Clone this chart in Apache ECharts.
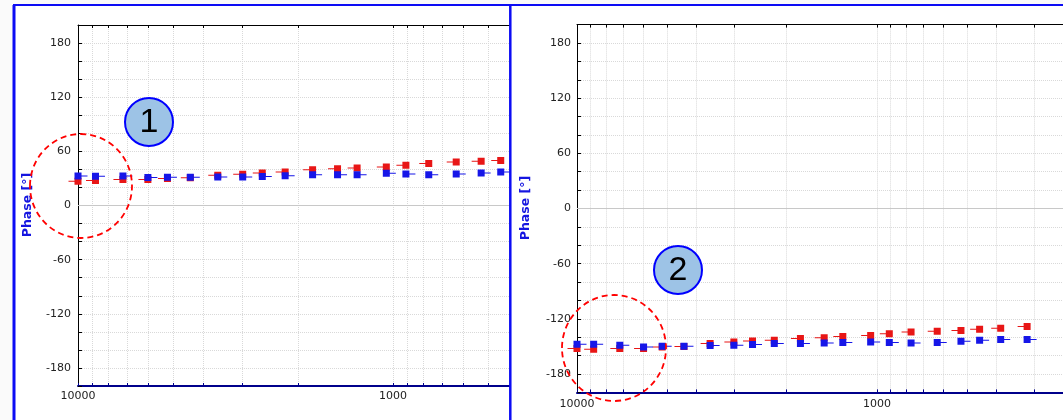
<!DOCTYPE html>
<html><head><meta charset="utf-8">
<script src="https://cdn.jsdelivr.net/npm/echarts@6/dist/echarts.min.js"></script>
<style>html,body{margin:0;padding:0;background:#fff}#c{width:1063px;height:420px}</style>
</head><body><div id="c"></div>
<script>
// ---- data ----
const frequencies = [10000, 8800, 7200, 6000, 5200, 4400, 3600, 3000, 2600, 2200, 1800, 1500, 1300, 1050, 910, 770, 630, 525, 455, 387, 316];
const panel1Red  = [26.8, 27.6, 28.7, 28.7, 29.8, 30.7, 33.4, 34.5, 36.0, 37.1, 39.7, 40.8, 41.5, 42.6, 44.5, 46.4, 48.2, 48.9, 50.0];
const panel1Blue = [32.7, 32.3, 32.7, 30.9, 31.2, 31.2, 31.5, 31.5, 32.0, 33.1, 34.2, 34.2, 34.2, 35.6, 34.9, 34.2, 34.9, 36.0, 37.1];
const panel2Red  = [-152.3, -153.1, -152.3, -152.3, -150.6, -150.0, -146.9, -145.2, -144.1, -143.4, -141.5, -140.5, -139.1, -138.0, -136.2, -134.4, -133.4, -132.6, -131.2, -130.1, -128.3];
const panel2Blue = [-147.7, -147.7, -148.8, -150.6, -149.8, -149.8, -149.1, -148.8, -148.0, -146.9, -146.9, -146.3, -145.8, -145.2, -145.8, -146.3, -145.8, -144.4, -143.4, -142.6, -142.6];
const xTickValues  = [10000, 9000, 8000, 7000, 6000, 5000, 4000, 3000, 2000, 1000, 900, 800, 700, 600, 500, 400, 300, 200];
const xLabelValues = [10000, 1000];
const yLabelValues = [-180, -120, -60, 0, 60, 120, 180];
const yTitle = 'Phase [°]';
const callouts = ['1', '2'];

const lg = Math.log10;
const RED = '#e81616', BLUE = '#1616e8';
const FONT = '"DejaVu Sans", sans-serif';
const GRIDC = '#d9d9d9';

function pts(vals) { return vals.map((v, i) => [lg(frequencies[i]), v]); }

function xAxis(g, min, pos, margin) {
  const bottom = pos === 'bottom';
  return {
    type: 'value', gridIndex: g, position: pos, min: min, max: 4, inverse: true,
    axisLine: { show: true, onZero: false, lineStyle: { color: bottom ? '#00008b' : '#000', width: bottom ? 2 : 1 } },
    axisTick: { show: true, inside: true, length: 3, customValues: xTickValues.map(lg),
      lineStyle: { color: bottom ? '#00008b' : '#000' } },
    axisLabel: { show: bottom, customValues: xLabelValues.map(lg), margin: margin,
      formatter: v => String(Math.round(Math.pow(10, v))),
      fontSize: 11, color: '#222', fontFamily: FONT, showMinLabel: true, showMaxLabel: true },
    splitLine: { show: bottom, lineStyle: { type: 'dotted', color: GRIDC, width: 1 } }
  };
}
function yAxis(g, margin) {
  return {
    type: 'value', gridIndex: g, min: -200, max: 200, interval: 20,
    axisLine: { show: true, onZero: false, lineStyle: { color: '#000', width: 1 } },
    axisTick: { show: true, inside: true, length: 4, lineStyle: { color: '#000' } },
    axisLabel: { customValues: yLabelValues, margin: margin, fontSize: 11, color: '#222', fontFamily: FONT },
    splitLine: { show: true, lineStyle: { type: 'dotted', color: GRIDC, width: 1 } }
  };
}
const blueSym = 'path://M0 0H7V7H0Z M7 3H13V4H7Z';
const redSym  = 'path://M0 3H6V4H0Z M6 0H13V7H6Z';
function series(xi, yi, red, blue) {
  return [
    { type: 'scatter', xAxisIndex: xi, yAxisIndex: yi, data: pts(red), symbol: redSym,
      symbolSize: [13, 7], symbolOffset: [-3, 0], itemStyle: { color: RED, opacity: 1 }, z: 3,
      markLine: { silent: true, symbol: 'none', label: { show: false },
        lineStyle: { type: 'solid', color: '#c8c8c8', width: 1 }, data: [{ yAxis: 0 }] } },
    { type: 'scatter', xAxisIndex: xi, yAxisIndex: yi, data: pts(blue), symbol: blueSym,
      symbolSize: [13, 7], symbolOffset: [3, 0], itemStyle: { color: BLUE, opacity: 1 }, z: 4 }
  ];
}

const chart = echarts.init(document.getElementById('c'), null, { renderer: 'canvas' });
const BORDER = '#0c0cf4';
chart.setOption({
  animation: false,
  backgroundColor: '#ffffff',
  grid: [
    { left: 78, top: 25, width: 432, height: 361 },
    { left: 577, top: 24.6, width: 520, height: 367.8 }
  ],
  xAxis: [
    xAxis(0, 4 - 432 / 315, 'bottom', 5),
    xAxis(0, 4 - 432 / 315, 'top', 5),
    xAxis(1, 4 - 520 / 321, 'bottom', 6),
    xAxis(1, 4 - 520 / 321, 'top', 6)
  ],
  yAxis: [yAxis(0, 7), yAxis(1, 6)],
  series: [...series(0, 0, panel1Red, panel1Blue), ...series(2, 1, panel2Red, panel2Blue)],
  graphic: [
    { type: 'rect', z: 100, shape: { x: 0, y: 0, width: 13, height: 420 }, style: { fill: '#fafafa' } },
    { type: 'rect', z: 100, shape: { x: 0, y: 0, width: 1063, height: 4 }, style: { fill: '#fafafa' } },
    { type: 'line', z: 101, shape: { x1: 14, y1: 5, x2: 14, y2: 420 }, style: { stroke: BORDER, lineWidth: 3 } },
    { type: 'line', z: 101, shape: { x1: 13, y1: 5, x2: 1063, y2: 5 }, style: { stroke: BORDER, lineWidth: 2 } },
    { type: 'line', z: 101, shape: { x1: 510.3, y1: 5, x2: 510.3, y2: 420 }, style: { stroke: BORDER, lineWidth: 2.5 } },
    { type: 'text', z: 101, x: 28, y: 205, rotation: Math.PI / 2,
      style: { text: yTitle, font: 'bold 12.5px "DejaVu Sans"', fill: '#1515e0', align: 'center', verticalAlign: 'middle' } },
    { type: 'text', z: 101, x: 526, y: 208, rotation: Math.PI / 2,
      style: { text: yTitle, font: 'bold 12.5px "DejaVu Sans"', fill: '#1515e0', align: 'center', verticalAlign: 'middle' } },
    { type: 'circle', z: 102, shape: { cx: 149, cy: 122, r: 24 }, style: { fill: '#9dc3e6', stroke: '#0000ff', lineWidth: 2 } },
    { type: 'text', z: 103, x: 149, y: 123, style: { text: callouts[0], font: '34px "Liberation Sans"', fill: '#000', align: 'center', verticalAlign: 'middle' } },
    { type: 'circle', z: 102, shape: { cx: 678, cy: 270, r: 24 }, style: { fill: '#9dc3e6', stroke: '#0000ff', lineWidth: 2 } },
    { type: 'text', z: 103, x: 678, y: 271, style: { text: callouts[1], font: '34px "Liberation Sans"', fill: '#000', align: 'center', verticalAlign: 'middle' } },
    { type: 'ellipse', z: 102, shape: { cx: 81, cy: 186, rx: 51, ry: 52 }, style: { fill: null, stroke: '#ff0000', lineWidth: 1.8, lineDash: [6, 4] } },
    { type: 'ellipse', z: 102, shape: { cx: 614, cy: 348, rx: 52, ry: 53 }, style: { fill: null, stroke: '#ff0000', lineWidth: 1.8, lineDash: [6, 4] } }
  ]
});
</script></body></html>
